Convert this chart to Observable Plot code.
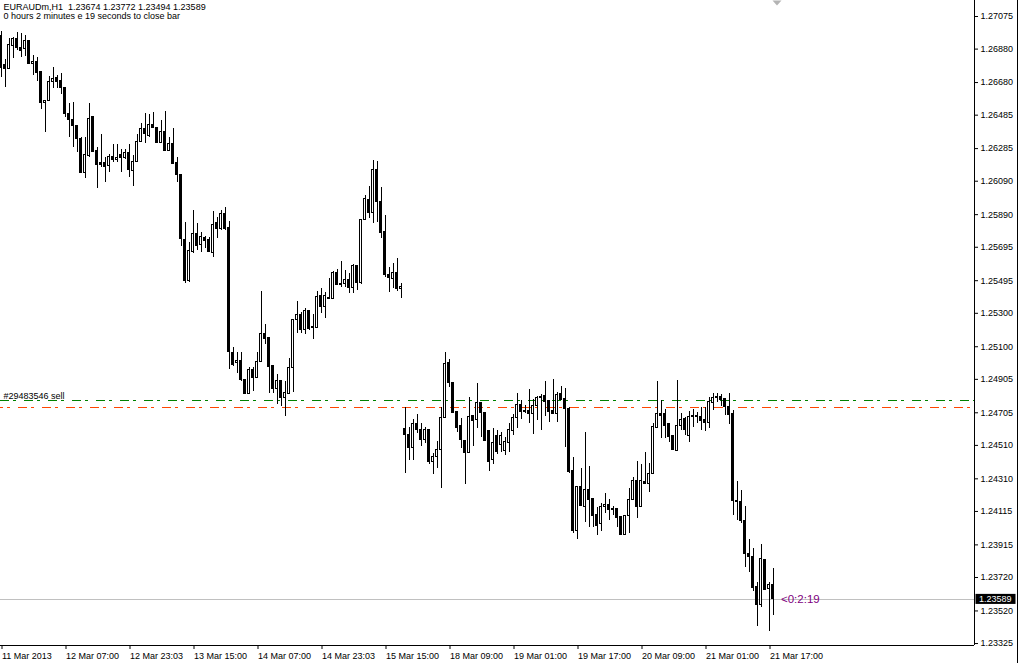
<!DOCTYPE html>
<html>
<head>
<meta charset="utf-8">
<script src="https://cdn.jsdelivr.net/npm/d3@7"></script>
<script src="https://cdn.jsdelivr.net/npm/@observablehq/plot@0.6"></script>
<style>
  html, body { margin: 0; padding: 0; background: #ffffff; }
  svg text { white-space: pre; }
</style>
</head>
<body>
<div id="chart"></div>
<script>
// ---------- DATA (prices in points, 1 point = 0.00001) ----------
const headerLine1 = "EURAUDm,H1\u00a0 1.23674 1.23772 1.23494 1.23589";
const headerLine2 = "0 hours 2 minutes e 19 seconds to close bar";

const openPts = [
126956,126782,126764,126896,126938,126884,126878,126926,126788,126800,
126746,126555,126567,126681,126710,126687,126645,126489,126459,126423,
126340,126142,126238,126471,126268,126196,126196,126178,126232,126214,
126244,126226,126256,126154,126202,126322,126405,126358,126429,126411,
126316,126387,126268,126310,126196,126130,125736,125496,125664,125777,
125706,125753,125736,125658,125843,125807,125891,125813,125060,125000,
125012,124904,124820,124958,124916,125006,125179,125155,124982,124850,
124898,124791,124820,124970,125257,125287,125203,125311,125221,125215,
125401,125335,125389,125383,125544,125472,125478,125502,125454,125580,
125484,125855,125975,125897,126160,125963,125789,125532,125508,125544,
125448,124611,124575,124497,124635,124605,124545,124605,124408,124438,
124485,124671,125000,124886,124707,124629,124539,124462,124683,124659,
124761,124701,124599,124420,124569,124515,124474,124527,124599,124671,
124749,124713,124713,124695,124743,124802,124808,124773,124713,124695,
124820,124785,124725,124354,124001,124264,124139,124246,124192,124091,
124037,124139,124151,124127,124127,124079,123977,124085,124186,124300,
124139,124294,124282,124336,124617,124695,124695,124635,124569,124479,
124629,124665,124569,124683,124683,124677,124659,124641,124761,124796,
124802,124785,124737,124695,124180,124174,124055,123863,123840,123666,
123558,123822,123654,123674];

const highPts = [
126986,126818,126944,126950,126980,126974,126962,126932,126842,126830,
126746,126573,126716,126770,126722,126734,126645,126555,126561,126423,
126352,126352,126555,126471,126292,126370,126232,126250,126310,126310,
126280,126280,126310,126244,126370,126435,126495,126489,126501,126411,
126453,126507,126352,126405,126232,126130,125843,125724,125915,125837,
125783,125759,125753,125909,125873,125915,125933,125849,125096,125066,
125066,124904,124976,124976,125066,125430,125233,125155,124982,124934,
124898,124892,125030,125257,125371,125305,125329,125317,125293,125430,
125448,125425,125508,125550,125562,125610,125556,125538,125592,125580,
125861,126005,126059,126214,126208,126053,125885,125574,125598,125628,
125478,124737,124617,124665,124695,124641,124617,124605,124462,124533,
124737,125066,125024,124886,124707,124671,124539,124796,124683,124880,
124761,124701,124599,124611,124599,124587,124557,124641,124695,124820,
124779,124749,124844,124785,124802,124814,124892,124773,124904,124826,
124862,124850,124737,124438,124264,124372,124587,124384,124192,124139,
124162,124222,124186,124145,124133,124079,124085,124252,124318,124414,
124396,124468,124402,124641,124892,124779,124725,124635,124569,124898,
124701,124677,124713,124725,124707,124737,124737,124796,124820,124820,
124814,124791,124820,124719,124294,124240,124145,123947,123893,123690,
123917,123828,123690,123772];

const lowPts = [
126710,126651,126764,126824,126872,126830,126836,126788,126722,126687,
126519,126381,126567,126645,126645,126609,126471,126352,126292,126262,
126136,126106,126232,126262,126047,126172,126082,126142,126202,126202,
126142,126220,126112,126059,126202,126322,126316,126352,126411,126316,
126316,126268,126268,126190,126082,125700,125478,125484,125658,125676,
125664,125688,125664,125634,125747,125795,125795,124964,124982,124940,
124892,124820,124820,124832,124916,125006,125113,124820,124820,124755,
124743,124683,124820,124826,125179,125179,125173,125197,125143,125215,
125299,125269,125383,125383,125472,125454,125454,125419,125419,125436,
125472,125855,125867,125837,125843,125747,125514,125425,125448,125430,
125389,124342,124420,124420,124581,124503,124521,124396,124336,124372,
124252,124671,124856,124701,124587,124491,124276,124462,124503,124611,
124557,124533,124354,124396,124456,124468,124450,124468,124569,124611,
124665,124701,124641,124575,124659,124599,124683,124647,124695,124647,
124779,124497,124342,123983,123947,124145,124049,124019,124019,123971,
123995,124103,124061,124091,124019,123977,123977,123983,124186,124073,
124139,124282,124228,124336,124611,124551,124551,124527,124485,124474,
124599,124569,124527,124617,124641,124599,124593,124611,124719,124767,
124743,124689,124635,124091,124061,124043,123780,123750,123636,123427,
123540,123648,123397,123494];

const closePts = [
126770,126764,126902,126938,126884,126866,126926,126788,126800,126740,
126555,126567,126681,126704,126681,126645,126489,126459,126423,126340,
126142,126244,126465,126262,126184,126184,126172,126232,126214,126226,
126226,126256,126160,126202,126322,126405,126370,126429,126411,126316,
126387,126268,126310,126190,126130,125742,125496,125670,125777,125700,
125759,125730,125664,125831,125807,125891,125807,125066,124988,125012,
124904,124820,124958,124916,125006,125179,125149,124976,124850,124898,
124791,124826,124970,125257,125287,125203,125311,125209,125215,125395,
125335,125401,125383,125544,125472,125478,125502,125454,125580,125484,
125855,125981,125897,126160,125963,125783,125532,125514,125544,125448,
125460,124575,124497,124635,124605,124545,124605,124408,124438,124485,
124671,124994,124886,124701,124617,124545,124462,124677,124653,124761,
124701,124539,124408,124527,124468,124569,124533,124605,124671,124749,
124707,124707,124695,124743,124796,124796,124767,124707,124695,124814,
124779,124725,124348,123997,124264,124145,124246,124186,124085,124025,
124139,124151,124121,124121,124073,123977,124085,124186,124300,124139,
124300,124282,124336,124623,124695,124683,124629,124563,124485,124629,
124659,124605,124677,124677,124677,124653,124641,124767,124796,124802,
124779,124737,124689,124180,124174,124055,123863,123840,123660,123558,
123828,123648,123678,123589];

const xTickIndex = [0,16,32,48,64,80,96,112,128,144,160,176,192];
const xTickLabels = ["11 Mar 2013","12 Mar 07:00","12 Mar 23:03","13 Mar 15:00","14 Mar 07:00",
  "14 Mar 23:03","15 Mar 15:00","18 Mar 09:00","19 Mar 01:00","19 Mar 17:00",
  "20 Mar 09:00","21 Mar 01:00","21 Mar 17:00"];
const yTicks = [1.27075,1.26880,1.26680,1.26485,1.26285,1.26090,1.25890,1.25695,1.25495,1.25300,
  1.25100,1.24905,1.24705,1.24510,1.24310,1.24115,1.23915,1.23720,1.23520,1.23325];

const orderLabel = "#29483546 sell";
const orderLevel = 1.24779;   // green dash-dot
const stopLevel = 1.24737;    // orange-red dash-dot
const timerText = "<0:2:19";

// ---------- BUILD ----------
const candles = openPts.map((o, i) => ({
  i, open: o / 1e5, high: highPts[i] / 1e5, low: lowPts[i] / 1e5, close: closePts[i] / 1e5
}));
const last = candles[candles.length - 1];
const labelMap = new Map(xTickIndex.map((d, k) => [d, xTickLabels[k]]));

const W = 1019, H = 663, mR = 45, mB = 18;
const barPx = 4;
const plotW = W - mR;
const xDomain = [-0.125, plotW / barPx - 0.125];
const yDomain = [1.233133, 1.271707];
const axisX = xDomain[1];
const borderX = xDomain[1] + 43 / barPx;

const flatTri = {
  draw(ctx) { ctx.moveTo(-4.5, 0); ctx.lineTo(4.5, 0); ctx.lineTo(0, 5); ctx.closePath(); }
};

const chart = Plot.plot({
  width: W, height: H,
  marginLeft: 0, marginRight: mR, marginTop: 0, marginBottom: mB,
  x: {domain: xDomain, axis: null},
  y: {domain: yDomain, axis: null},
  color: {type: "identity"},
  style: {fontFamily: "'Liberation Sans', Arial, sans-serif", fontSize: "9px", background: "#ffffff", color: "#000000", overflow: "visible"},
  marks: [
    // bid line
    Plot.ruleY([last.close], {stroke: "#c0c0c0", shapeRendering: "crispEdges"}),
    // order lines
    Plot.ruleY([orderLevel], {stroke: "#008000", strokeDasharray: "9,4,3,8", shapeRendering: "crispEdges"}),
    Plot.ruleY([stopLevel], {stroke: "#ff4500", strokeDasharray: "9,4,3,8", strokeDashoffset: 6, shapeRendering: "crispEdges"}),
    Plot.text([orderLevel], {y: d => d, text: () => orderLabel, frameAnchor: "left", textAnchor: "start", lineAnchor: "bottom", dx: 3, dy: -1, fill: "#000000"}),
    // candles
    Plot.ruleX(candles, {x: "i", y1: "low", y2: "high", stroke: "#000000", shapeRendering: "crispEdges"}),
    Plot.rect(candles, {
      x1: d => d.i - 0.25, x2: d => d.i + 0.25, y1: "open", y2: "close",
      fill: d => d.close >= d.open ? "#ffffff" : "#000000",
      stroke: "#000000", shapeRendering: "crispEdges"
    }),
    // frame lines
    Plot.ruleX([axisX], {stroke: "#000000", shapeRendering: "crispEdges"}),
    Plot.ruleY([yDomain[0]], {stroke: "#000000", shapeRendering: "crispEdges"}),
    Plot.ruleX([borderX], {stroke: "#000000", insetBottom: -mB, shapeRendering: "crispEdges"}),
    // axes
    Plot.axisY(yTicks, {anchor: "right", tickSize: 3, tickPadding: 3, tickFormat: d => d.toFixed(5), label: null}),
    Plot.axisX(xTickIndex, {anchor: "bottom", tickSize: 4, tickPadding: 3, tickFormat: d => labelMap.get(d), textAnchor: "start", dx: 1, label: null}),
    // current price box
    Plot.rect([last], {x1: () => axisX + 0.375, x2: () => borderX - 0.375, y1: d => d.close - 0.0003, y2: d => d.close + 0.0003, fill: "#000000"}),
    Plot.text([last], {x: () => axisX + 0.375, y: "close", text: d => d.close.toFixed(5), fill: "#ffffff", textAnchor: "start", dx: 3}),
    // bar timer
    Plot.text([last], {x: d => d.i + 2, y: "close", text: () => timerText, fill: "#800080", textAnchor: "start", fontSize: 11.5}),
    // chart shift marker
    Plot.dot([last], {x: d => d.i + 1, frameAnchor: "top", symbol: flatTri, fill: "#b4b4b4", stroke: "none", r: 4}),
    // header
    Plot.text([headerLine1], {frameAnchor: "top-left", textAnchor: "start", lineAnchor: "top", dx: 3, dy: 3}),
    Plot.text([headerLine2], {frameAnchor: "top-left", textAnchor: "start", lineAnchor: "top", dx: 3, dy: 12})
  ]
});
document.getElementById("chart").appendChild(chart);
</script>
</body>
</html>
